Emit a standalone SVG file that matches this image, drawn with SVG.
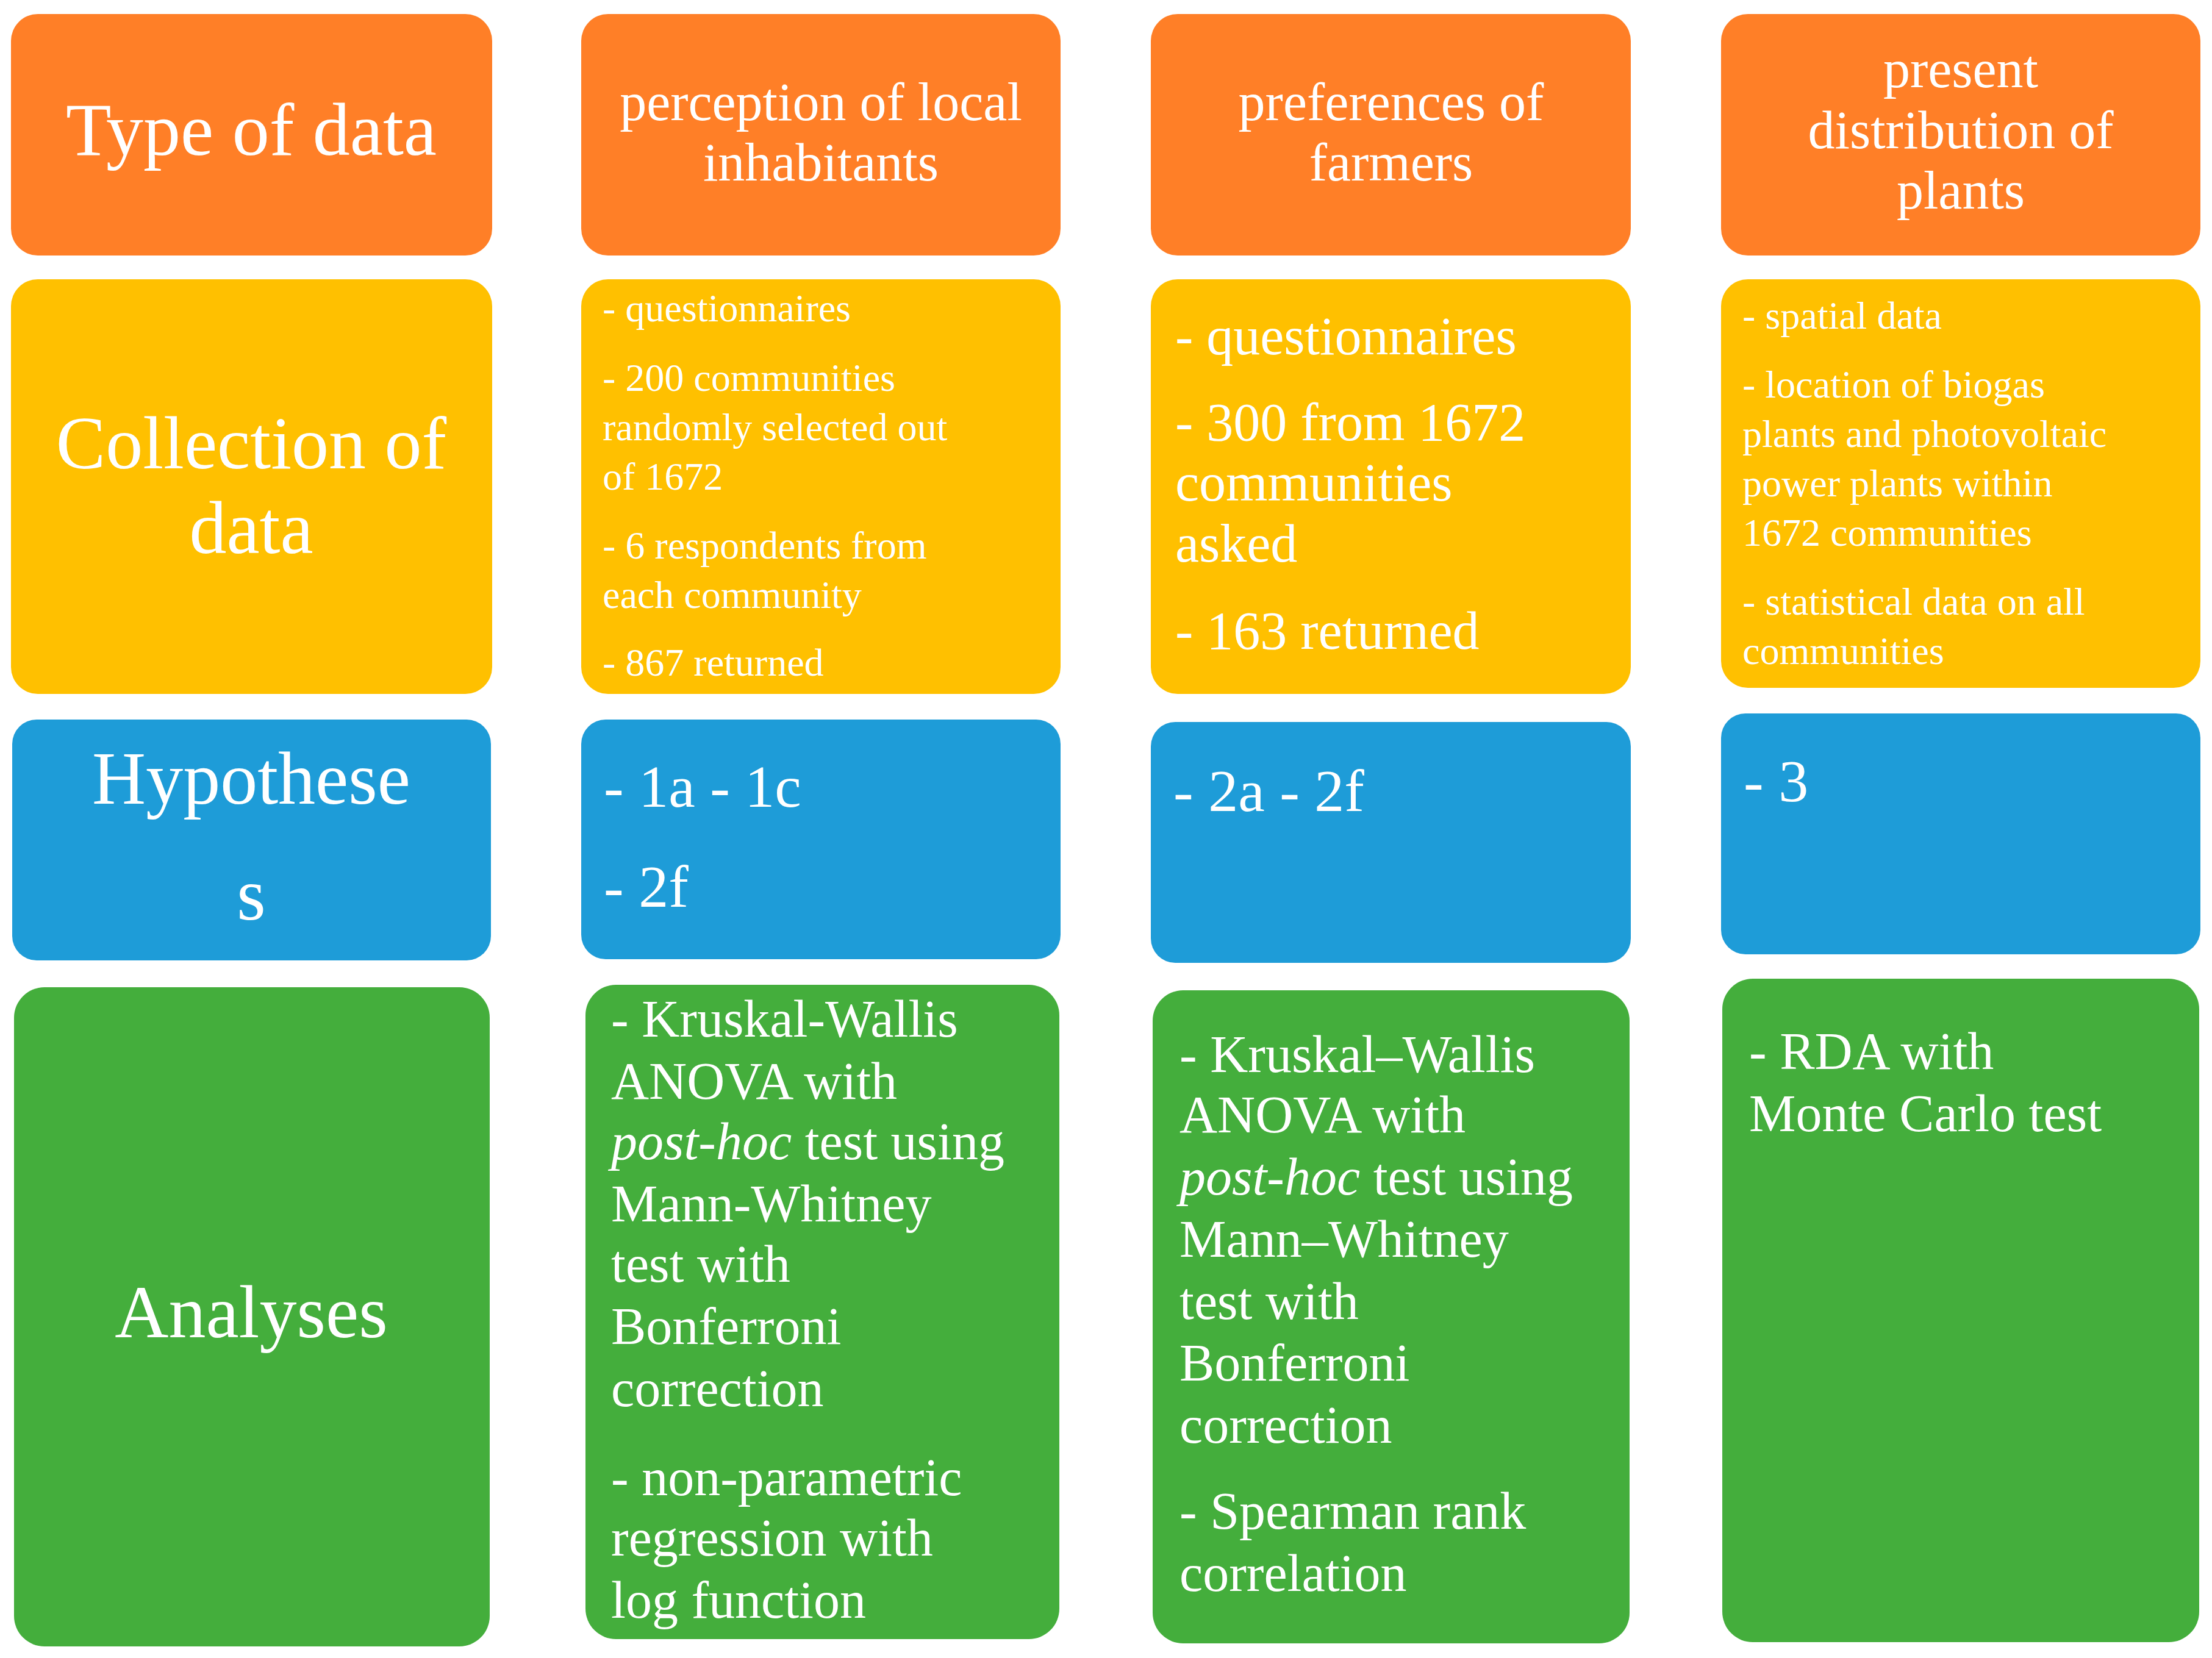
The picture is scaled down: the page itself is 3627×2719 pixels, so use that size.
<svg xmlns="http://www.w3.org/2000/svg" width="3627" height="2719" viewBox="0 0 3627 2719">
<style>
text{font-family:"Liberation Serif","DejaVu Serif",serif;fill:#fff}
.o{fill:#FF7F27}.y{fill:#FFC000}.b{fill:#1E9CD8}.g{fill:#44AE3C}
.t{font-size:122px;text-anchor:middle}
.h{font-size:88px;text-anchor:middle}
.s{font-size:64px}.m{font-size:88px}.l{font-size:98px}.a{font-size:86px}
</style>
<rect width="3627" height="2719" fill="#fff"/>
<g id="r1c1"><rect class="o" x="18" y="23" width="789" height="396" rx="44"/><text class="t" x="412" y="254">Type of data</text></g>
<g id="r1c2"><rect class="o" x="953" y="23" width="786" height="396" rx="44"/><text class="h" x="1346" y="197">perception of local</text><text class="h" x="1346" y="296">inhabitants</text></g>
<g id="r1c3"><rect class="o" x="1887" y="23" width="787" height="396" rx="44"/><text class="h" x="2281" y="197">preferences of</text><text class="h" x="2281" y="296">farmers</text></g>
<g id="r1c4"><rect class="o" x="2822" y="23" width="786" height="396" rx="44"/><text class="h" x="3215" y="143">present</text><text class="h" x="3215" y="243">distribution of</text><text class="h" x="3215" y="342">plants</text></g>
<g id="r2c1"><rect class="y" x="18" y="458" width="789" height="680" rx="44"/><text class="t" x="412" y="768">Collection of</text><text class="t" x="412" y="907">data</text></g>
<g id="r2c2"><rect class="y" x="953" y="458" width="786" height="680" rx="44"/><g class="s"><text x="988" y="527">- questionnaires</text><text x="988" y="641">- 200 communities</text><text x="988" y="722">randomly selected out</text><text x="988" y="803">of 1672</text><text x="988" y="916">- 6 respondents from</text><text x="988" y="997">each community</text><text x="988" y="1108">- 867 returned</text></g></g>
<g id="r2c3"><rect class="y" x="1887" y="458" width="787" height="680" rx="44"/><g class="m"><text x="1927" y="581">- questionnaires</text><text x="1927" y="722">- 300 from 1672</text><text x="1927" y="821">communities</text><text x="1927" y="921">asked</text><text x="1927" y="1064">- 163 returned</text></g></g>
<g id="r2c4"><rect class="y" x="2822" y="458" width="786" height="670" rx="44"/><g class="s"><text x="2857" y="539">- spatial data</text><text x="2857" y="652">- location of biogas</text><text x="2857" y="733">plants and photovoltaic</text><text x="2857" y="814">power plants within</text><text x="2857" y="895">1672 communities</text><text x="2857" y="1008">- statistical data on  all</text><text x="2857" y="1089">communities</text></g></g>
<g id="r3c1"><rect class="b" x="20" y="1180" width="785" height="395" rx="40"/><text class="t" x="412" y="1318">Hypothese</text><text class="t" x="412" y="1508">s</text></g>
<g id="r3c2"><rect class="b" x="953" y="1180" width="786" height="393" rx="40"/><g class="l"><text x="990" y="1323">- 1a - 1c</text><text x="990" y="1487">- 2f</text></g></g>
<g id="r3c3"><rect class="b" x="1887" y="1184" width="787" height="395" rx="40"/><text class="l" x="1924" y="1330">- 2a - 2f</text></g>
<g id="r3c4"><rect class="b" x="2822" y="1170" width="786" height="395" rx="40"/><text class="l" x="2859" y="1314">- 3</text></g>
<g id="r4c1"><rect class="g" x="23" y="1619" width="780" height="1081" rx="50"/><text class="t" x="412" y="2193">Analyses</text></g>
<g id="r4c2"><rect class="g" x="960" y="1615" width="777" height="1073" rx="50"/><g class="a"><text x="1002" y="1700">- Kruskal-Wallis</text><text x="1002" y="1802">ANOVA with</text><text x="1002" y="1901"><tspan font-style="italic">post-hoc</tspan> test using</text><text x="1002" y="2003">Mann-Whitney</text><text x="1002" y="2102">test with</text><text x="1002" y="2204">Bonferroni</text><text x="1002" y="2306">correction</text><text x="1002" y="2452">- non-parametric</text><text x="1002" y="2551">regression with</text><text x="1002" y="2653">log function</text></g></g>
<g id="r4c3"><rect class="g" x="1890" y="1624" width="782" height="1071" rx="50"/><g class="a"><text x="1934" y="1758">- Kruskal–Wallis</text><text x="1934" y="1857">ANOVA with</text><text x="1934" y="1959"><tspan font-style="italic">post-hoc</tspan> test using</text><text x="1934" y="2061">Mann–Whitney</text><text x="1934" y="2163">test with</text><text x="1934" y="2264">Bonferroni</text><text x="1934" y="2366">correction</text><text x="1934" y="2507">- Spearman rank</text><text x="1934" y="2609">correlation</text></g></g>
<g id="r4c4"><rect class="g" x="2824" y="1605" width="782" height="1088" rx="50"/><g class="a"><text x="2868" y="1753">- RDA with</text><text x="2868" y="1855">Monte Carlo test</text></g></g>
<g id="connectors"/>
</svg>
